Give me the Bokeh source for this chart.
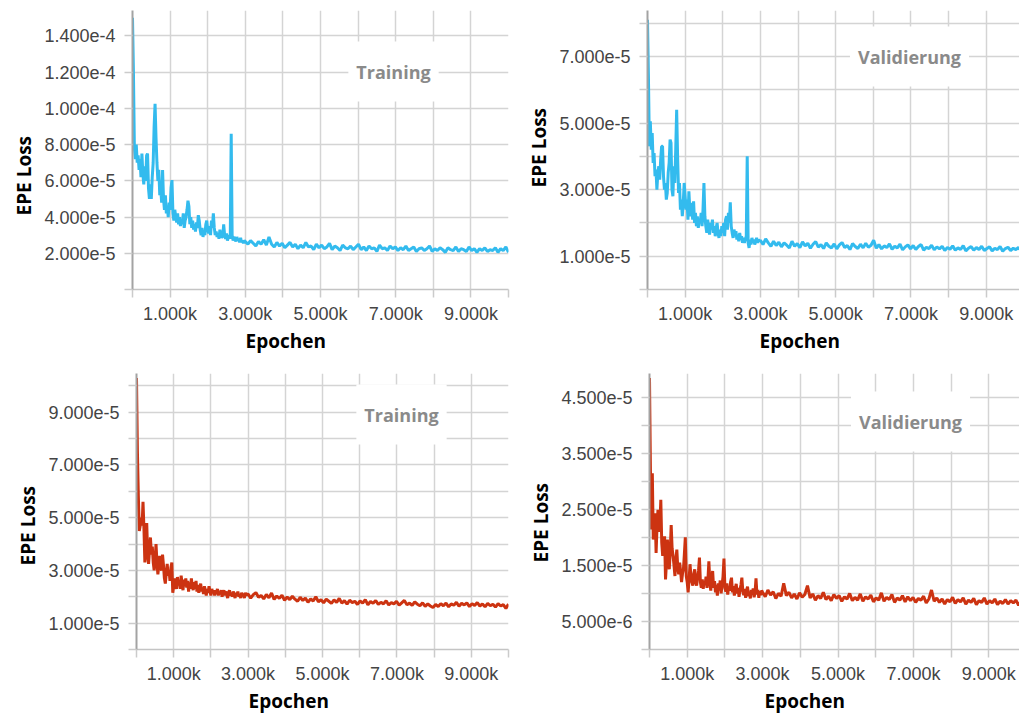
from bokeh.plotting import figure
from bokeh.models import Range1d, FixedTicker, Label, Title
from bokeh.layouts import column, row
from bokeh.embed import file_html
from bokeh.resources import INLINE

# ---------------- data (loss values in units of 1e-6) ----------------
SCALE = 1e-6
EARLY_STEP = 25      # epochs 0 .. 2975 sampled every 25 epochs
LATE_START = 3000    # epochs 3000 .. 10000 sampled every 70 epochs
LATE_STEP = 70

# Top-left: Training (blue)
train_blue_early = [
    150, 120, 78, 72, 80, 70, 74, 66, 72, 62,
    75, 64, 58, 68, 60, 74, 75, 56, 50, 58,
    50, 62, 70, 90, 102.5, 84, 70, 60, 66, 52,
    56, 48, 66, 50, 44, 52, 42, 46, 40, 48,
    44, 56, 60.4, 42, 38, 44, 40, 37, 42, 36,
    40, 35, 39, 36, 42, 34, 38, 40, 44, 49,
    46, 36, 40, 34, 38, 33, 36, 32, 37, 34,
    41, 38, 33, 30, 34, 29, 32, 30, 36, 38,
    33, 31, 35, 30, 38, 34, 42, 34, 30, 32,
    29, 31, 28, 33, 30, 29, 29, 36, 30, 28,
    31, 27, 29, 30, 28, 86, 30, 27, 29, 28,
    26.5, 29, 27, 28, 26, 28.5, 26, 27, 25.5, 27,
]
train_blue_late = [
    26.5, 25, 27, 25.5, 24, 26.5, 25, 27.5, 24.5, 29,
    25, 23.5, 26, 24, 25.5, 23, 24.5, 26, 23.5, 25,
    22.5, 24.5, 23, 26, 23.5, 24, 22, 25, 23, 24.5,
    22.5, 23.5, 25.5, 22, 24, 23, 21.5, 24.5, 23, 22.5,
    24, 22, 23.5, 25, 22, 23.5, 21.5, 24, 22.5, 23,
    21, 24.5, 22.5, 23, 21.5, 24, 22.5, 23.5, 21.5, 23,
    22, 24, 21.5, 22.5, 23.5, 21, 22.5, 23, 21.5, 22.5,
    24, 21, 22.5, 21.5, 23, 22, 20.5, 23, 22, 21.5,
    23.5, 21, 22.5, 22, 21, 23.5, 21.5, 22.5, 20.5, 22.5,
    21.5, 23, 21, 22, 21.5, 23, 20.5, 22.5, 21.5, 23.5,
    20.5,
]

# Top-right: Validierung (blue)
val_blue_early = [
    81, 64, 43, 50.5, 42, 47, 38, 41, 34, 36,
    30, 35, 37, 33, 39, 43, 43, 34, 30, 32,
    27, 29, 35, 38, 45, 44, 30, 28, 37, 32,
    42, 54, 40, 29, 32, 24, 27, 22, 26, 32,
    28, 24, 27, 21, 29.5, 24, 22, 26, 21, 26.5,
    20, 23, 19, 22, 18.5, 21, 20, 23, 19, 24,
    32, 22, 19, 17, 21, 18, 16.5, 20, 18, 21,
    17, 19, 16, 18.5, 20, 17, 15.5, 18, 16, 19,
    17, 20, 16, 21, 22, 18, 23, 20, 26.2, 19,
    17, 15.5, 18, 16, 17.5, 15, 16.5, 14.5, 17, 15,
    16, 14, 15.5, 14, 15, 16, 40, 14, 12.5, 15,
    13.5, 15.5, 14, 15, 13.5, 14.5, 15.5, 14, 15, 14.5,
]
val_blue_late = [
    14.8, 13.5, 15.2, 14, 13, 14.5, 13.2, 14.2, 12.8, 14,
    13.3, 12.5, 14.5, 13, 13.8, 12.6, 14.3, 13.1, 13.9, 12.4,
    13.6, 14.4, 12.7, 13.5, 12.3, 14, 13, 12.5, 13.7, 12.2,
    13.4, 14.1, 12.6, 13.2, 12, 13.8, 12.9, 12.3, 13.6, 12.5,
    13.9, 12.7, 13.3, 14.8, 12.4, 13.5, 12.2, 13.1, 12.6, 13.7,
    12.1, 13, 12.5, 13.6, 11.9, 12.8, 13.4, 12.2, 13.2, 12,
    12.9, 13.5, 11.8, 12.7, 12.3, 13.3, 11.9, 12.8, 12.2, 13,
    11.7, 12.6, 12.1, 13.1, 11.8, 12.5, 12, 13.2, 11.6, 12.4,
    12.9, 11.8, 12.6, 12, 13, 11.7, 12.3, 12.8, 11.6, 12.4,
    12, 12.9, 11.5, 12.3, 12.7, 11.7, 12.4, 12, 12.6, 11.6,
    12.2,
]

# Bottom-left: Training (red)
train_red_early = [
    103, 75, 58, 45, 47, 50, 47, 56, 46, 33,
    38, 48, 36, 32.5, 38, 42.5, 36, 39, 33, 30,
    34, 40, 33, 28.5, 32, 35.5, 31, 30, 36, 32,
    27, 25, 29, 32.5, 28, 30, 26, 31, 33, 21.5,
    24, 27, 25, 23, 27.5, 24.5, 26, 23, 28, 25,
    22.5, 26.5, 24, 27, 23.5, 26, 22, 25.5, 23, 27,
    24, 22.5, 25.5, 23, 26, 22, 24.5, 21.5, 23.5, 25,
    22, 23.5, 21, 24, 22.5, 20.5, 23, 21.5, 24, 22,
    20.5, 23, 21.5, 22.5, 20.5, 22.5, 21, 23, 20.5, 22,
    21, 22.5, 20, 21.5, 22.5, 20.5, 22, 21, 19.5, 21.5,
    22.5, 20.5, 21.5, 20, 22, 21, 19.5, 21.5, 20.5, 22,
    20, 21, 19.5, 21.5, 20.5, 21, 19.5, 21.5, 20.5, 21,
]
train_red_late = [
    21, 19.5, 20.8, 21.6, 19.8, 20.5, 19.2, 20.9, 19.6, 21.4,
    19, 20.3, 19.4, 20.6, 18.7, 19.9, 18.9, 20.2, 19.1, 18.3,
    19.8, 18.6, 19.5, 17.9, 19.2, 18.4, 20, 18.1, 18.9, 17.7,
    19.1, 18.3, 17.5, 18.8, 17.9, 19.4, 17.6, 18.5, 17.2, 18.7,
    17.8, 18.3, 17.1, 18.4, 17.6, 18.9, 17, 18.2, 17.5, 18.6,
    17.1, 17.9, 17.3, 18.5, 16.9, 17.8, 17.3, 18.3, 16.8, 17.7,
    18.6, 17, 17.6, 16.7, 18.1, 17.2, 16.6, 17.7, 16.4, 17.3,
    16.5, 15.9, 17.1, 16.3, 17.4, 16.6, 17.6, 16.2, 17.3, 16.8,
    17.9, 16.4, 17.5, 16.9, 17.7, 16.3, 17.4, 16.7, 17.8, 16.5,
    17.3, 16.2, 17.5, 16.6, 17.2, 16.1, 17.4, 16.5, 17, 15.6,
    17.2,
]

# Bottom-right: Validierung (red)
val_red_early = [
    48.4, 32, 21.4, 31.4, 19.6, 21, 24.3, 17.2, 22, 24.9,
    21, 22, 26.7, 19, 16.7, 18.5, 20.2, 12.5, 15.5, 19.6,
    16, 14.3, 17.5, 22.2, 18, 16.7, 15, 13.1, 16, 17.8,
    14.5, 13.4, 15.5, 14, 12, 13.5, 14.3, 17, 20, 13.1,
    12, 10.2, 12.5, 15.2, 13, 12, 11.4, 13.5, 14.3, 12,
    11.4, 12.8, 14, 16.4, 12, 11, 12.5, 10.8, 12.2, 11.5,
    13, 11, 12.4, 15.7, 12, 10.5, 12.8, 14, 11, 12.2,
    10.2, 11.5, 9.6, 11.8, 10.5, 12.3, 10, 11.5, 13, 16.2,
    11, 10.3, 11.8, 9.8, 11.2, 10.5, 12, 12.8, 10.2, 11.3,
    9.6, 10.8, 11.7, 10, 11, 9.4, 10.6, 11.5, 12.8, 10.4,
    9.7, 10.8, 9.2, 10.5, 11.2, 9.5, 10.3, 9.1, 10.6, 9.8,
    10.9, 9.3, 10.2, 12.7, 9.8, 10.6, 9.2, 10.4, 9.7, 10.5,
]
val_red_late = [
    10.2, 9.4, 10.6, 9.7, 10.3, 9.1, 10, 9.5, 11.8, 9.6,
    10.2, 9.2, 9.9, 9, 10.1, 9.3, 9.8, 11.4, 9.2, 9.9,
    8.8, 9.6, 9.1, 10.2, 8.9, 9.5, 8.7, 9.8, 9.1, 9.6,
    8.6, 9.4, 9, 10, 8.7, 9.3, 8.8, 9.9, 8.6, 9.4,
    9, 9.7, 8.5, 9.2, 8.8, 10.1, 8.6, 9.3, 8.9, 9.8,
    8.4, 9.2, 8.8, 9.6, 8.5, 9.4, 8.7, 9.3, 8.4, 9.1,
    8.8, 9.5, 8.3, 9, 10.6, 8.6, 9.2, 8.4, 9, 8.1,
    8.9, 8.5, 9.3, 8.2, 8.9, 8.5, 9.2, 8.1, 8.8, 8.4,
    9.1, 8, 8.7, 8.4, 9.2, 8.1, 8.7, 8.3, 9, 8,
    8.6, 8.2, 8.9, 8.1, 8.7, 8.3, 8.8, 7.9, 8.6, 8.2,
    8.5,
]

# ---------------- ticks ----------------
x_ticks = [0, 1000, 2000, 3000, 4000, 5000, 6000, 7000, 8000, 9000, 10000]
x_labels = ["", "1.000k", "", "3.000k", "", "5.000k", "", "7.000k", "", "9.000k", ""]

y_ticks_tl = [0.0, 2e-5, 4e-5, 6e-5, 8e-5, 1e-4, 1.2e-4, 1.4e-4]
y_labels_tl = ["", "2.000e-5", "4.000e-5", "6.000e-5", "8.000e-5", "1.000e-4", "1.200e-4", "1.400e-4"]

y_ticks_tr = [0.0, 1e-5, 2e-5, 3e-5, 4e-5, 5e-5, 6e-5, 7e-5, 8e-5]
y_labels_tr = ["", "1.000e-5", "", "3.000e-5", "", "5.000e-5", "", "7.000e-5", ""]

y_ticks_bl = [0.0, 1e-5, 2e-5, 3e-5, 4e-5, 5e-5, 6e-5, 7e-5, 8e-5, 9e-5, 1e-4]
y_labels_bl = ["", "1.000e-5", "", "3.000e-5", "", "5.000e-5", "", "7.000e-5", "", "9.000e-5", ""]

y_ticks_br = [0.0, 5e-6, 1e-5, 1.5e-5, 2e-5, 2.5e-5, 3e-5, 3.5e-5, 4e-5, 4.5e-5]
y_labels_br = ["", "5.000e-6", "", "1.500e-5", "", "2.500e-5", "", "3.500e-5", "", "4.500e-5"]

x_title = "Epochen"
y_title = "EPE Loss"
title_train = "Training"
title_val = "Validierung"

BLUE = "#33bbee"
RED = "#cc3311"


def make_panel(early, late, color, y_ticks, y_labels, y_end, x_end, width,
               borders, title, title_xy, ylab_offset, xlab_offset):
    xs = [EARLY_STEP * i for i in range(len(early))] + \
         [LATE_START + LATE_STEP * i for i in range(len(late))]
    ys = [v * SCALE for v in early + late]
    left, right, top, bottom = borders
    p = figure(width=width, height=360, output_backend="svg", toolbar_location=None,
               x_range=Range1d(0, x_end), y_range=Range1d(0, y_end),
               min_border_left=left, min_border_right=right,
               min_border_top=top, min_border_bottom=bottom)
    p.outline_line_color = None
    p.background_fill_color = "white"
    p.border_fill_color = "white"

    xt = FixedTicker(ticks=x_ticks)
    yt = FixedTicker(ticks=y_ticks)
    p.xaxis.ticker = xt
    p.yaxis.ticker = yt
    p.xgrid.ticker = xt
    p.ygrid.ticker = yt
    p.xaxis.major_label_overrides = dict(zip(x_ticks, x_labels))
    p.yaxis.major_label_overrides = dict(zip(y_ticks, y_labels))

    for ax in (p.xaxis[0], p.yaxis[0]):
        ax.major_tick_in = 0
        ax.major_tick_out = 8
        ax.minor_tick_line_color = None
        ax.major_tick_line_color = "#cbcbcb"
        ax.major_tick_line_width = 1.5
        ax.major_label_text_font = "Liberation Sans"
        ax.major_label_text_font_size = "18px"
        ax.major_label_text_color = "#444444"
    p.xaxis.major_label_standoff = 6
    p.yaxis.major_label_standoff = 9
    p.xaxis.axis_line_color = "#c4c4c4"
    p.xaxis.axis_line_width = 1.5
    p.yaxis.axis_line_color = "#a3a3a3"
    p.yaxis.axis_line_width = 2

    for g in (p.xgrid[0], p.ygrid[0]):
        g.grid_line_color = "#d4d4d4"
        g.grid_line_width = 1.5

    p.line(xs, ys, line_color=color, line_width=3)

    p.add_layout(Label(x=title_xy[0], y=title_xy[1], x_units="screen", y_units="screen",
                       text=title, text_align="center", text_baseline="middle",
                       text_font="Open Sans", text_font_style="bold",
                       text_font_size="18px", text_color="#8a8a8a",
                       background_fill_color="white", border_line_color=None,
                       padding=(8, 18)))
    p.add_layout(Title(text=y_title, align="left", offset=ylab_offset,
                       vertical_align="middle", standoff=8,
                       text_font="Open Sans", text_font_style="bold",
                       text_font_size="19px", text_color="black"), "left")
    p.add_layout(Title(text=x_title, align="left", offset=xlab_offset,
                       vertical_align="middle", standoff=1,
                       text_font="Open Sans", text_font_style="bold",
                       text_font_size="19px", text_color="black"), "below")
    return p


p1 = make_panel(train_blue_early, train_blue_late, BLUE, y_ticks_tl, y_labels_tl,
                1.54e-4, 10000, 510, (132, 2, 10, 70), title_train,
                (261, 218), 74, 113)
p2 = make_panel(val_blue_early, val_blue_late, BLUE, y_ticks_tr, y_labels_tr,
                8.38e-5, 9886, 509, (137, 0, 10, 71), title_val,
                (262, 233), 102, 112)
p3 = make_panel(train_red_early, train_red_late, RED, y_ticks_bl, y_labels_bl,
                1.047e-4, 10000, 510, (136, 2, 13, 71), title_train,
                (265, 235), 84, 112)
p4 = make_panel(val_red_early, val_red_late, RED, y_ticks_br, y_labels_br,
                4.92e-5, 9814, 509, (139, 0, 12, 69), title_val,
                (261, 228), 87, 115)

layout = column(row(p1, p2, spacing=0), row(p3, p4, spacing=0), spacing=0)

open("out.html", "w").write(file_html(layout, INLINE))
